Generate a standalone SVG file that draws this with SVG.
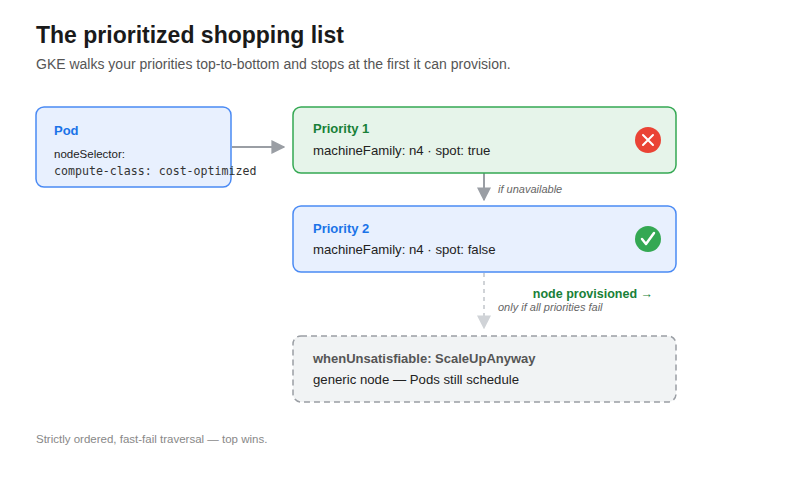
<svg xmlns="http://www.w3.org/2000/svg" width="800" height="480" viewBox="0 0 800 480">
<style>
text{font-family:"Liberation Sans",Arial,sans-serif}
.t{font-size:13px;font-weight:bold}
.b{font-size:13.2px;fill:#222}
.lbl{font-size:11px;font-style:italic;fill:#666}
</style>
<defs>
<marker id="ah" viewBox="0 0 10 10" refX="9" refY="5" markerWidth="7" markerHeight="7" orient="auto"><path d="M0,0L10,5L0,10z" fill="#9a9ea4"/></marker>
<marker id="ahl" viewBox="0 0 10 10" refX="9" refY="5" markerWidth="7" markerHeight="7" orient="auto"><path d="M0,0L10,5L0,10z" fill="#d0d3d7"/></marker>
</defs>
<rect width="800" height="480" fill="#fff"/>
<text x="36" y="43" font-size="23" font-weight="bold" fill="#1a1a1a">The prioritized shopping list</text>
<text x="36" y="69" font-size="14" fill="#555">GKE walks your priorities top-to-bottom and stops at the first it can provision.</text>
<g id="connectors">
<line x1="232" y1="147" x2="284" y2="147" stroke="#9a9ea4" stroke-width="2" marker-end="url(#ah)"/>
<line x1="484" y1="173" x2="484" y2="200" stroke="#9a9ea4" stroke-width="2" marker-end="url(#ah)"/>
<text x="498" y="193" class="lbl">if unavailable</text>
<line x1="484" y1="273" x2="484" y2="328" stroke="#d0d3d7" stroke-width="2" stroke-dasharray="4,4" marker-end="url(#ahl)"/>
<text x="498" y="311" class="lbl" fill="#888">only if all priorities fail</text>
</g>
<g id="pod">
<rect x="36" y="107" width="195" height="80" rx="8" fill="#e8f0fe" stroke="#4a8af4" stroke-width="1.5"/>
<text x="54" y="135" class="t" fill="#1a73e8">Pod</text>
<text x="54" y="158" font-size="11.5" fill="#222">nodeSelector:</text>
<text x="54" y="175" font-size="11.6" style="font-family:'DejaVu Sans Mono',monospace" fill="#333">compute-class: cost-optimized</text>
</g>
<g id="p1">
<rect x="293" y="107" width="383" height="66" rx="8" fill="#e6f4ea" stroke="#34a853" stroke-width="1.5"/>
<text x="313" y="133" class="t" fill="#188038">Priority 1</text>
<text x="313" y="155" class="b">machineFamily: n4 · spot: true</text>
<circle cx="648" cy="140" r="13" fill="#ea4335"/>
<path d="M643,135L653,145M653,135L643,145" stroke="#fff" stroke-width="2" stroke-linecap="round"/>
</g>
<g id="p2">
<rect x="293" y="206" width="383" height="66" rx="8" fill="#e8f0fe" stroke="#4a8af4" stroke-width="1.5"/>
<text x="313" y="233" class="t" fill="#1a73e8">Priority 2</text>
<text x="313" y="254" class="b">machineFamily: n4 · spot: false</text>
<circle cx="648" cy="239" r="13" fill="#34a853"/>
<path d="M642,239L646,244L654,233" stroke="#fff" stroke-width="2.5" fill="none" stroke-linecap="round" stroke-linejoin="round"/>
<text x="653" y="298" font-size="12.5" font-weight="bold" fill="#188038" text-anchor="end">node provisioned →</text>
</g>
<g id="fallback">
<rect x="293" y="336" width="383" height="66" rx="8" fill="#f1f3f4" stroke="#9a9ea4" stroke-width="1.5" stroke-dasharray="6,4"/>
<text x="313" y="363" class="t" fill="#555">whenUnsatisfiable: ScaleUpAnyway</text>
<text x="313" y="384" class="b" fill="#444">generic node — Pods still schedule</text>
</g>
<text x="36" y="443" font-size="11.5" fill="#888">Strictly ordered, fast-fail traversal — top wins.</text>
</svg>
